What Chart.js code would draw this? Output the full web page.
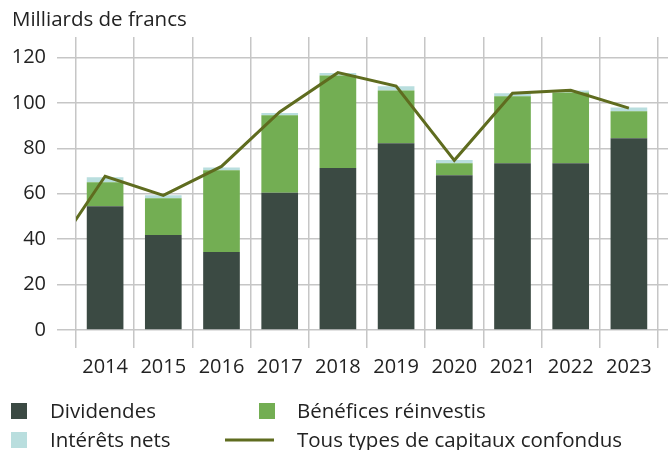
<!DOCTYPE html>
<html>
<head>
<meta charset="utf-8">
<script src="https://cdn.jsdelivr.net/npm/chart.js@4.4.0/dist/chart.umd.min.js"></script>
<style>
html,body{margin:0;padding:0;background:#fff;}
#wrap{position:relative;width:668px;height:450px;}
</style>
</head>
<body>
<div id="wrap"><canvas id="c" width="668" height="450"></canvas></div>
<script>
// Categories (2013 only carries the start of the total line, off the left edge)
const years = ['2013','2014','2015','2016','2017','2018','2019','2020','2021','2022','2023'];
const dividendes = [null,54.5,41.8,34.3,60.4,71.3,82.2,68.1,73.4,73.4,84.4];
const beneficesReinvestis = [null,10.6,16.2,36.0,34.1,40.8,23.3,5.3,29.5,31.2,11.9];
const interetsNets = [null,2.2,1.3,1.2,1.0,1.0,1.8,1.5,1.3,0.9,1.7];
const totalCapitaux = [29.7,67.7,59.3,72.0,96.0,113.3,107.4,74.7,104.2,105.5,97.7];
const yTicks = [0,20,40,60,80,100,120];

const FONT = '"Open Sans", "Liberation Sans", sans-serif';
const TXT = '#222222';
const GRID = '#c6c6c6';
const C_DIV = '#3b4a43';
const C_BEN = '#73ae53';
const C_INT = '#b9dede';
const C_TOT = '#5f6c1f';

const overlay = {
  id: 'overlay',
  afterDraw(chart) {
    const ctx = chart.ctx;
    ctx.save();
    ctx.font = '20.5px ' + FONT;
    ctx.fillStyle = TXT;
    ctx.textBaseline = 'middle';
    ctx.textAlign = 'left';
    ctx.fillText('Milliards de francs', 12, 20);
    // legend
    const items = chart.data.datasets;
    const pos = {
      'Dividendes': {x: 11, y: 411, mx: 50},
      'Bénéfices réinvestis': {x: 259, y: 411, mx: 297},
      'Intérêts nets': {x: 11, y: 440, mx: 50},
      'Tous types de capitaux confondus': {x: 225, y: 440, mx: 297}
    };
    items.forEach(ds => {
      const p = pos[ds.label];
      if (!p) return;
      if (ds.type === 'line') {
        ctx.strokeStyle = ds.borderColor;
        ctx.lineWidth = 3;
        ctx.beginPath();
        ctx.moveTo(p.x, p.y);
        ctx.lineTo(p.x + 49, p.y);
        ctx.stroke();
      } else {
        ctx.fillStyle = ds.backgroundColor;
        ctx.fillRect(p.x, p.y - 8, 16, 16);
      }
      ctx.fillStyle = TXT;
      ctx.fillText(ds.label, p.mx, p.y + 1);
    });
    ctx.restore();
  }
};

new Chart(document.getElementById('c'), {
  type: 'bar',
  data: {
    labels: years,
    datasets: [
      {type: 'line', label: 'Tous types de capitaux confondus', data: totalCapitaux,
       borderColor: C_TOT, backgroundColor: C_TOT, borderWidth: 3, pointRadius: 0,
       tension: 0, fill: false, order: 0, stack: 'total'},
      {label: 'Dividendes', data: dividendes, backgroundColor: C_DIV, stack: 's', order: 1,
       barPercentage: 0.63, categoryPercentage: 1},
      {label: 'Bénéfices réinvestis', data: beneficesReinvestis, backgroundColor: C_BEN, stack: 's', order: 1,
       barPercentage: 0.63, categoryPercentage: 1},
      {label: 'Intérêts nets', data: interetsNets, backgroundColor: C_INT, stack: 's', order: 1,
       barPercentage: 0.63, categoryPercentage: 1}
    ]
  },
  options: {
    responsive: false,
    animation: false,
    devicePixelRatio: 1,
    layout: {padding: {top: 37, bottom: 60, left: 0, right: 0}},
    plugins: {legend: {display: false}, tooltip: {enabled: false}, title: {display: false}},
    scales: {
      x: {
        min: '2014',
        stacked: true,
        offset: true,
        grid: {offset: true, color: GRID, lineWidth: 1.5, tickLength: 18, drawTicks: true},
        border: {display: false},
        ticks: {font: {family: FONT, size: 20}, color: TXT, padding: 7, maxRotation: 0, autoSkip: false},
        afterFit(s) { s.height = 60; }
      },
      y: {
        stacked: true,
        min: 0, max: 129,
        afterBuildTicks(s) { s.ticks = yTicks.map(v => ({value: v})); },
        grid: {color: GRID, lineWidth: 1.5, tickLength: 19},
        border: {display: false},
        ticks: {font: {family: FONT, size: 20}, color: TXT, padding: 11},
        afterFit(s) { s.width = 76; }
      },
      y2: {
        position: 'right',
        min: 0, max: 129,
        afterBuildTicks(s) { s.ticks = yTicks.map(v => ({value: v})); },
        grid: {drawOnChartArea: false, color: GRID, lineWidth: 1.5, tickLength: 10},
        border: {display: false},
        ticks: {display: false},
        afterFit(s) { s.width = 10; }
      }
    }
  },
  plugins: [overlay]
});
</script>
</body>
</html>
